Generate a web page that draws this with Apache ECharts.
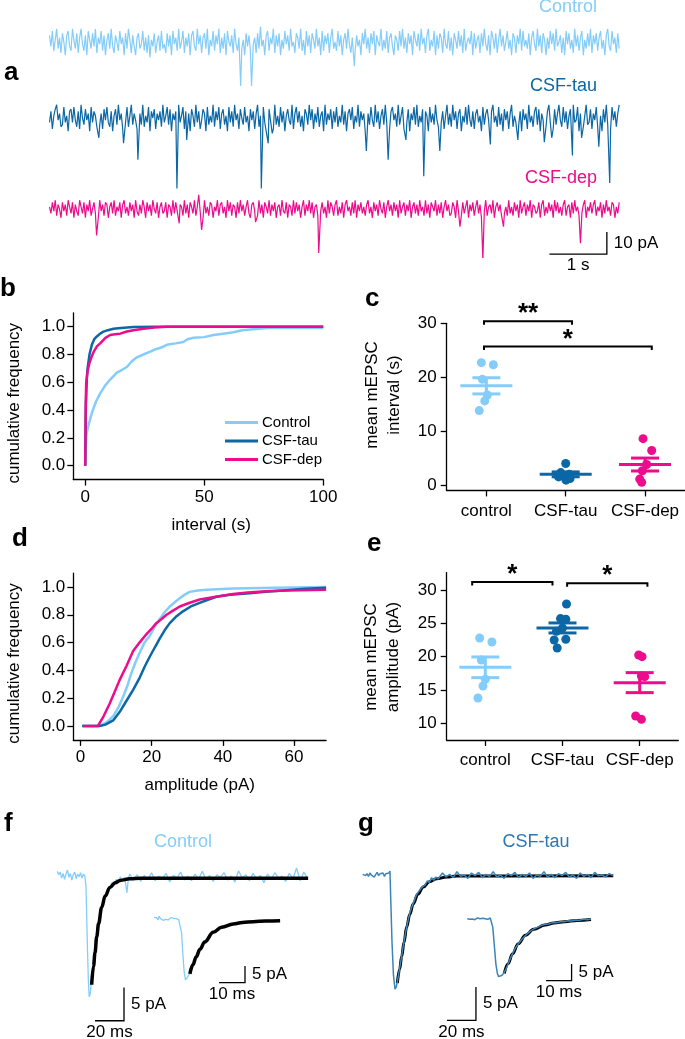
<!DOCTYPE html>
<html>
<head>
<meta charset="utf-8">
<script src="https://cdn.jsdelivr.net/npm/echarts@6/dist/echarts.min.js"></script>
<style>
  html, body { margin: 0; padding: 0; background: #fff; }
  #chart { width: 685px; height: 1039px; }
</style>
</head>
<body>
<div id="chart"></div>
<script>
const FONT = '"Liberation Sans", Arial, Helvetica, sans-serif';
const colors = { control: '#84CDFA', tau: '#0B67A6', dep: '#EC0C8C', tauTrace: '#3C85B8' };
const groupColors = [colors.control, colors.tau, colors.dep];
const groupLabels = ['control', 'CSF-tau', 'CSF-dep'];

// ---- a: raw traces, one sample every 25 ms (pA) ----
const traceDt = 0.025;
const controlNoise = [
  3,-2,5,-4,1,6,-3,2,-5,4,0,-6,3,5,-2,-4,6,1,-3,4,
  -5,2,6,-1,-4,3,-6,5,1,-3,4,-2,6,-5,2,-1,5,-4,3,-6,
  1,4,-3,6,-2,-5,3,0,-4,5,-1,2,-6,4,-3,6,1,-5,3,-2,
  -6,2,4,-3,-1,5,-4,2,-5,3,-7,1,-2,4,-5,0,3,-4,5,-3,
  -1,-5,4,-2,3,-6,5,-1,2,-4,6,-3,0,5,-5,2,-2,4,-6,3,
  5,-2,-4,6,-1,3,-5,2,4,-3,6,-6,1,-2,5,-4,3,-1,6,-5,
  2,-3,4,-6,5,0,-2,3,-5,6,-1,-4,2,5,-3,1,-6,4,-2,3,
  -4,6,-1,2,-5,4,-3,7,-2,1,-6,3,5,-4,2,-1,6,-5,3,-2,
  4,-6,1,-3,5,-1,3,-4,6,-2,0,-5,4,2,-3,6,-4,1,-6,5,
  -2,3,-5,4,1,-3,6,-2,2,-6,5,-4,3,-1,4,-5,2,6,-3,0,
  -4,5,-2,3,-6,1,4,-3,6,-1,-5,2,5,-4,3,-2,1,-6,4,-1,
  6,-3,2,-5,4,-1,5,-6,3,0,-2,6,-4,1,-3,5,-5,2,4,-2,
  -6,3,1,-4,5,-2,6,-3,2,-5,4,-1,3,-6,5,1,-2,4,-4,6,
  -1,2,-5,3,6,-4,1,-2,5,-6,3,-3,4,2,-5,6,-1,-3,5,-4,
  2,-6,4,1,-3,5,-2,3,-5,6,-4,0,2,-1,5,-6,4,-3,1,3,
  -5,4,-2,6,-1,-4,3,-6,5,2,-3,4,-5,1,6,-2,3,-4,0,5,
  -3,1,-6,4,2,-5,3,-1,6,-4,5,-2,1,-3,4,-6,2,5,-1,-4,
  6,-2,3,-5,4,1,-6,2,-3,5,-1,4,-4,6,-2,0,3,-5,2,-6,
  5,-1,4,-3,1,-5,6,-2,3,-4,2,5,-6,1,-3,4,-2,6,-5,3,
  -1,4,-4,2,5,-3,1,-6,3,6,-2,-4,5,-1,2,-5,4,-3
];
const tauNoise = [
  -2,3,-5,1,4,6,-1,2,-4,-3,5,-2,1,-6,3,4,-2,5,-1,-4,
  3,-5,6,0,-3,4,-1,2,-6,5,-2,3,1,-4,6,-3,2,-5,4,-1,
  5,-2,-4,3,-6,1,4,-3,6,-1,2,-5,3,-2,5,-4,1,6,-3,2,
  -1,-5,4,2,-3,6,-4,1,-2,5,-6,3,0,4,-5,2,-1,3,-4,6,
  -2,1,5,-3,4,-6,2,-1,3,-4,6,-2,1,5,-5,3,-3,2,-6,4,
  1,-4,6,-2,3,-5,-1,4,2,-6,5,-3,1,-2,6,-4,3,-1,5,-5,
  2,4,-3,1,-6,5,-2,3,-4,6,-1,2,-5,4,0,-3,5,-2,1,-6,
  4,-1,3,-5,2,6,-4,1,-3,5,-2,-6,3,4,-1,2,-5,6,-3,1,
  -4,5,-2,3,-6,1,4,-1,-3,6,-5,2,5,-2,3,-4,1,-6,4,2,
  -3,6,-1,4,-5,2,-2,5,-4,1,3,-6,6,-3,2,-1,4,-5,3,-2,
  5,-4,1,-2,6,-3,3,-6,2,4,-1,5,-5,1,-2,6,-4,3,-1,2,
  -6,4,2,-3,5,-1,-4,6,-2,3,-5,1,4,-3,6,-2,0,-5,3,5,
  -1,2,-4,6,-3,1,5,-5,3,-2,4,-6,2,-1,5,-3,6,-4,1,-2,
  4,-5,3,1,-6,5,-2,2,-3,6,-1,-4,4,-2,3,-5,1,6,-3,2,
  -4,6,-1,3,-5,2,4,-6,1,-2,5,-3,6,-1,-4,3,-5,2,4,-2,
  1,-6,5,-3,2,4,-1,-5,3,6,-2,1,-4,5,-3,2,-6,4,-1,3,
  -5,2,6,-4,1,-2,5,-3,3,-6,4,-1,2,-5,6,-2,1,-4,3,5,
  -3,4,-6,2,-1,5,-4,3,6,-2,1,-5,4,-3,2,6,-1,-4,5,-2,
  3,-5,1,4,-3,6,-2,-1,5,-6,2,3,-4,1,6,-3,-2,4,-5,2,
  -1,5,-4,3,1,-6,4,-2,6,-3,2,-5,5,-1,3,-4,2,6
];
const depNoise = [
  1,-2,3,-1,4,-3,2,0,-4,3,-1,2,-3,4,1,-2,3,-4,2,-1,
  -3,4,1,-2,3,-4,2,-1,4,-3,0,3,-2,1,-4,4,-1,2,-3,3,
  2,-4,1,3,-2,4,-3,1,-1,3,-4,2,4,-2,1,-3,3,-1,2,-4,
  4,-1,-3,2,-2,4,1,-4,3,-1,2,-3,4,0,-2,3,-4,1,3,-2,
  -1,3,-4,2,1,-3,4,-2,3,-1,-4,2,1,-3,4,-2,2,-4,3,1,
  -2,4,-3,1,3,-1,2,-4,4,-2,1,-3,3,2,-4,1,-1,4,-3,2,
  3,-2,1,-4,4,-1,3,-3,2,1,-4,3,-2,4,-1,2,-3,1,4,-2,
  -4,2,3,-1,1,-3,4,-2,2,-4,3,1,-2,4,-3,2,-1,3,-4,1,
  2,-3,4,-1,-2,3,-4,2,1,-3,4,-2,3,-1,2,-4,1,4,-3,2,
  -1,4,-2,3,-4,1,2,-3,4,-1,3,-2,1,-4,4,-2,3,1,-3,2,
  4,-3,1,-2,3,-4,2,4,-1,1,-3,3,-2,4,-4,2,-1,3,-2,1,
  -3,2,4,-2,1,-4,3,-1,2,-3,4,0,-2,3,-4,1,4,-1,2,-3,
  3,-1,2,-4,4,-2,1,3,-3,2,-1,4,-4,1,3,-2,2,-3,4,-1,
  1,-3,4,-2,2,-4,3,1,-1,4,-3,2,-2,3,-4,1,4,-1,2,-3,
  -2,3,1,-4,4,-1,2,-3,3,-2,1,4,-4,2,-1,3,-3,1,4,-2,
  2,-4,3,-1,4,-3,1,2,-2,4,-4,1,3,-1,2,-3,4,-2,1,-3,
  4,-2,1,-3,3,-1,2,-4,4,-2,1,3,-3,2,-1,4,-4,2,1,-2,
  -1,3,-4,2,4,-3,1,-2,3,-1,2,-4,4,-1,3,-2,1,-3,2,4,
  -3,1,2,-4,3,-2,4,-1,1,-3,3,-2,2,4,-4,1,-1,3,-2,2,
  4,-3,1,-1,3,-4,2,-2,4,-1,1,-3,3,2,-4,1,-2,3
];
// mEPSC events [time (s), amplitude (pA)]
const controlEvents = [[3.33, -20], [3.52, -20], [5.31, -11]];
const tauEvents = [
  [0.86, -9], [1.29, -11.5], [1.54, -19], [2.22, -32], [2.39, -10], [3.69, -32], [3.81, -11.5],
  [3.88, -7], [5.52, -15], [5.90, -19], [6.21, -10], [6.52, -26.5], [6.80, -15], [7.68, -12],
  [8.16, -10], [8.62, -11], [8.75, -9], [9.11, -17], [9.27, -9], [9.57, -13], [9.76, -29.5]
];
const depEvents = [
  [0.82, -12], [2.26, -6.5], [2.60, 6.5], [2.65, -9.5], [3.59, -6], [4.69, -20],
  [7.15, -8], [7.55, -23], [7.91, -8], [9.25, -15.5]
];

// ---- b: cumulative interval distributions [s, fraction] ----
const intervalCumControl = [
  [0,0],[0.2,0.12],[0.5,0.22],[1.2,0.28],[2.8,0.38],[4.5,0.46],[6.3,0.52],[8.5,0.58],[10.5,0.62],
  [13.3,0.67],[15.5,0.69],[17.5,0.71],[19.5,0.75],[21.7,0.78],[24.5,0.8],[27.3,0.82],[30,0.84],
  [32,0.85],[34.3,0.87],[38,0.88],[41.2,0.89],[43,0.91],[45.5,0.92],[50,0.925],[53.9,0.94],
  [58,0.95],[62.3,0.96],[66,0.975],[69.3,0.98],[76.3,0.99],[100,0.99]
];
const intervalCumTau = [
  [0,0],[0.3,0.45],[0.7,0.63],[1,0.7],[1.8,0.8],[2.8,0.87],[3.8,0.91],[4.9,0.93],[6.3,0.95],
  [7.7,0.965],[9.5,0.975],[11.9,0.985],[15,0.99],[20.3,0.997],[30,1],[100,1]
];
const intervalCumDep = [
  [0,0],[0.2,0.4],[0.4,0.59],[1,0.68],[1.8,0.74],[2.6,0.78],[3.6,0.82],[5,0.86],[6.3,0.88],
  [8.5,0.92],[10.5,0.94],[12.5,0.945],[14.7,0.95],[17.5,0.965],[20.3,0.975],[24.5,0.985],
  [29,0.995],[34.3,1],[100,1]
];

// ---- d: cumulative amplitude distributions [pA, fraction] ----
const ampCumControl = [
  [0.5,0],[5.4,0],[7.5,0.03],[9.2,0.07],[10.6,0.13],[12,0.21],[13.2,0.29],[14.3,0.38],[15.5,0.46],
  [16.7,0.53],[18,0.6],[19.5,0.65],[21,0.72],[22.3,0.77],[23.7,0.82],[25.1,0.86],[26.5,0.89],
  [27.9,0.92],[29.3,0.945],[30.7,0.965],[33,0.975],[35.4,0.98],[42.9,0.99],[55,0.995],[69,1]
];
const ampCumTau = [
  [0.5,0],[5.4,0],[7,0.01],[9.2,0.04],[11,0.1],[12.9,0.18],[14.8,0.26],[16.7,0.35],[18.1,0.43],
  [19.5,0.5],[21,0.57],[22.3,0.63],[23.7,0.69],[25.1,0.74],[27,0.79],[28.8,0.825],[31,0.86],
  [33.5,0.886],[36,0.91],[38.2,0.93],[42,0.945],[47.6,0.955],[52,0.965],[56.9,0.975],[62,0.985],[69,0.995]
];
const ampCumDep = [
  [0.7,0],[4.9,0],[6.5,0.07],[8.2,0.16],[9.6,0.245],[11,0.33],[12.9,0.43],[14.8,0.54],[16.6,0.6],
  [18.5,0.66],[20,0.7],[21.3,0.74],[22.8,0.77],[24.2,0.8],[26,0.83],[27.9,0.86],[30.5,0.885],
  [33.5,0.91],[38,0.93],[42.9,0.95],[47,0.96],[52.2,0.97],[58,0.975],[69,0.98]
];

// ---- c: mean mEPSC interval per cell (s) ----
const intervalControl = [22.7, 22.3, 19.6, 16.7, 15.6, 13.8];
const intervalControlJitter = [-0.063, 0.088, -0.05, 0.013, -0.02, -0.09];
const intervalTau = [4.0, 2.3, 2.0, 1.5, 1.2, 0.9];
const intervalTauJitter = [0.0, -0.063, 0.046, -0.09, 0.055, 0.004];
const intervalDep = [8.6, 6.4, 3.8, 2.65, 1.1, 0.5];
const intervalDepJitter = [-0.025, 0.084, 0.02, -0.034, -0.067, -0.042];
const intervalMean = [18.4, 1.98, 3.8];
const intervalSem = [1.5, 0.45, 1.2];
const intervalBrackets = [[-0.03, 1.08, 30.4, '**'], [-0.03, 2.085, 25.7, '*']];

// ---- e: mean mEPSC amplitude per cell (pA) ----
const amplitudeControl = [22.8, 22.2, 19.5, 16.6, 15.6, 13.8];
const amplitudeControlJitter = [-0.073, 0.086, -0.052, 0, -0.03, -0.095];
const amplitudeTau = [27.9, 25.7, 25.6, 24.3, 23.8, 22.6, 22.5, 21.3];
const amplitudeTauJitter = [0.052, -0.026, 0.043, 0.0, -0.078, 0.043, -0.108, -0.069];
const amplitudeDep = [20.25, 20.0, 17.1, 17.0, 11.1, 10.6];
const amplitudeDepJitter = [-0.013, 0.03, 0.022, 0.065, -0.052, 0.022];
const amplitudeMean = [18.4, 24.3, 16.1];
const amplitudeSem = [1.55, 0.75, 1.5];
const amplitudeBrackets = [[-0.17, 0.87, 31.2, '*'], [1.06, 2.1, 31.0, '*']];

// ---- f, g: averaged mEPSCs and exponential fits [ms, pA] ----
const fMainTrace = [
  [0,0.8],[1,0.3],[2,0.7],[3,-0.2],[4,0.5],[5,-0.4],[6,0.4],[7,1.0],[8,-0.1],[9,0.5],[10,-0.5],
  [11,0.3],[12,0.7],[13,-0.3],[14,0.4],[15,0.0],[16,0.6],[17,-0.2],[18,0.4],[19,0.1],
  [19.8,-1.5],[20.6,-9],[21.4,-15.5],[22,-18],[22.7,-17.6],[23.5,-15.6],[24.5,-13.6],[25.6,-11.0],
  [27,-8.6],[28.5,-6.6],[30,-4.9],[31.5,-3.8],[33,-3.2],[34.5,-2.1],[36,-1.9],[37.5,-0.9],[39,-1.2],
  [40.5,-0.4],[42,-0.9],[43.5,0.0],[45,-0.6],[46.5,-0.1],[48,-2.4],[49,-0.3],
  [50,0.4],[52.5,-0.5],[55,0.3],[57.5,-0.7],[60,0.2],[62.5,-0.4],[65,0.6],[67.5,-0.6],[70,0.1],
  [72.5,-0.3],[75,0.5],[77.5,-0.8],[80,0.2],[82.5,-0.2],[85,0.7],[87.5,-0.5],[90,0.1],[92.5,-0.6],
  [95,0.4],[97.5,-0.3],[100,0.8],[102.5,-0.4],[105,0.2],[107.5,-0.7],[110,0.3],[112.5,-0.1],
  [115,0.6],[117.5,-0.5],[120,0.1],[122.5,-0.8],[125,0.9],[127.5,-0.2],[130,0.3],[132.5,-0.6],
  [135,0.5],[137.5,-0.3],[140,0.2],[142.5,-0.9],[145,0.4],[147.5,-0.4],[150,0.6],[152.5,-0.2],
  [155,0.1],[157.5,-0.7],[160,0.5],[162.5,-0.3],[165,1.3],[167.5,-0.6],[170,0.7],[172.5,-0.2]
];
const fMainFit = [
  [23.7,-16.2],[25,-13.4],[26,-11.4],[27.2,-9.0],[28.5,-7.0],[30.6,-4.6],[33,-2.9],[36.3,-1.6],
  [40,-0.9],[43.2,-0.55],[50,-0.32],[57,-0.24],[173,-0.22]
];
const fInsetTrace = [
  [0,0.6],[0.5,0.1],[1,0.5],[1.5,-0.2],[2,0.9],[2.5,0.2],[3,0.4],[3.5,-0.3],[4,0.3],[4.5,0.0],
  [5,0.4],[5.5,-0.2],[6,0.2],[6.5,0.5],[7,-0.1],[7.5,0.3],[8,-0.3],[8.5,0.2],[9,0.4],[9.5,-0.1],[10,0.1],
  [10.6,-4],[11.1,-10.5],[11.6,-15.8],[12.1,-18.2],[12.6,-17.9],[13.2,-17.0],[14,-15.8],[15,-13.3],
  [16.5,-10.3],[18,-8.2],[20,-6],[22,-4.4],[24,-3.3],[26,-2.5],[28,-1.9],[30,-1.5],[33,-1.0],
  [36,-0.8],[39,-0.6],[42,-0.5],[45,-0.4],[48.5,-0.4]
];
const fInsetFit = [
  [13.8,-16.4],[15,-13.6],[16.2,-11.3],[17.7,-9.0],[19.5,-6.8],[22.8,-3.9],[26,-2.4],[30.5,-1.4],
  [34,-0.95],[38.2,-0.7],[43,-0.5],[48.5,-0.4]
];
const gMainTrace = [
  [0,0.1],[1,0.3],[2,-0.1],[3,0.2],[4,-0.2],[5,0.3],[6,0.0],[7,0.2],[8,-0.3],[9,0.1],[10,0.4],
  [11,-0.1],[12,0.2],[13,0.0],[14,0.3],[15,-0.2],[16,0.2],[17,0.0],[18,0.3],[18.8,0.6],
  [19.4,-4],[20.2,-10],[21.2,-15],[22.3,-17.1],[23.1,-16.8],[23.9,-16.0],[25,-14.6],[26.5,-12.6],
  [28,-10.6],[29.5,-8.7],[31,-7.1],[32.5,-5.7],[34,-4.7],[35.5,-3.9],[37,-3.0],[38.5,-2.5],
  [40,-2.1],[41.5,-1.7],[43,-1.5],[44.5,-0.9],[46,-1.1],[47.5,-0.4],[49,-0.8],[50.5,-0.3],[52,-0.6],
  [55,0.3],[57.5,-0.3],[60,0.1],[62.5,-0.4],[65,0.5],[67.5,-0.2],[70,0.0],[72.5,-0.5],[75,0.3],
  [77.5,-0.1],[80,0.4],[82.5,-0.4],[85,0.1],[87.5,-0.2],[90,0.5],[92.5,-0.3],[95,0.0],[97.5,-0.5],
  [100,0.2],[102.5,-0.1],[105,0.4],[107.5,-0.4],[110,0.1],[112.5,-0.2],[115,0.3],[117.5,-0.5],
  [120,0.0],[122.5,-0.2],[125,0.5],[127.5,-0.3],[130,0.1],[132.5,-0.4],[135,0.2],[137.5,-0.1],
  [140,0.4],[142.5,-0.3],[145,0.0],[147.5,-0.5],[150,0.3],[152.5,-0.2],[155,0.1],[157.5,-0.4],
  [160,0.4],[162.5,-0.1],[165,0.0],[167.5,-0.3],[170,0.2],[172.5,-0.1]
];
const gMainFit = [
  [23.9,-16.2],[25.5,-14.1],[26.9,-12.2],[28.5,-10.1],[30.3,-7.8],[32.5,-5.9],[34.9,-4.3],[38,-2.9],
  [41.8,-1.8],[46,-1.0],[51,-0.55],[58,-0.3],[64.8,-0.15],[172.8,-0.12]
];
const gInsetTrace = [
  [0,0.1],[0.5,0.2],[1,-0.1],[1.5,0.1],[2,0.0],[2.5,0.2],[3,-0.2],[3.5,0.1],[4,0.3],[4.5,-0.1],
  [5,0.1],[5.5,0.0],[6,0.2],[6.5,-0.1],[7,0.1],[7.5,0.2],[8,-0.1],[8.5,0.1],[9,0.3],[9.4,0.6],
  [10,-2.5],[10.6,-8],[11.2,-13.5],[11.8,-16.4],[12.3,-17.3],[12.9,-17.4],[13.6,-16.9],[14.5,-16.0],
  [15.5,-14.4],[17,-11.6],[18.5,-9.2],[20,-7.4],[21.5,-6.0],[23,-4.8],[24.5,-3.8],[26,-3.0],
  [27.5,-2.5],[29,-2.0],[30.5,-1.6],[32,-1.5],[33.5,-1.1],[35,-1.1],[36.5,-0.8],[38,-0.8],
  [39.5,-0.5],[41,-0.6],[42.5,-0.3],[44,-0.4],[45.5,-0.1],[47,-0.2],[48.5,0.0]
];
const gInsetFit = [
  [14.5,-16.3],[16,-13.4],[17.7,-10.5],[20,-7.4],[22.8,-4.9],[26,-3.1],[30.5,-1.8],[34,-1.2],
  [38.2,-0.8],[43,-0.45],[48.5,-0.15]
];

// scale bars: anchor (x, y) in data units, lengths, labels
const scaleBars = [
  { axis: 2, x: 8.71, y: -20.5, dx: 1, dy: 10, xText: '1 s', yText: '10 pA' },
  { axis: 7, x: 26, y: -21.6, dx: 20, dy: 5, xText: '20 ms', yText: '5 pA' },
  { axis: 8, x: 25, y: -19, dx: 10, dy: 5, xText: '10 ms', yText: '5 pA' },
  { axis: 9, x: 58.1, y: -21.8, dx: 20, dy: 5, xText: '20 ms', yText: '5 pA' },
  { axis: 10, x: 30.9, y: -18.5, dx: 10, dy: 5, xText: '10 ms', yText: '5 pA' }
];

function buildTrace(noise, events) {
  const pts = noise.map((v, i) => [i * traceDt, v]);
  events.forEach(([t, a]) => { pts[Math.round(t / traceDt)] = [t, a]; });
  return pts;
}

const font17 = '17px ' + FONT;

const grids = [
  { left: 49.5, top: 20, width: 574, height: 74.8 },
  { left: 49.5, top: 100.4, width: 574, height: 92.4 },
  { left: 49.5, top: 191.4, width: 574, height: 66 },
  { left: 73.3, top: 312.8, width: 249.9, height: 166.8 },
  { left: 446.7, top: 323.3, width: 238, height: 167.1 },
  { left: 73.3, top: 573.1, width: 252.8, height: 166.8 },
  { left: 446.7, top: 572.6, width: 231.6, height: 167.4 },
  { left: 57.3, top: 856.7, width: 253.75, height: 173.4 },
  { left: 154, top: 909.3, width: 130, height: 83.3 },
  { left: 362.7, top: 855, width: 253.75, height: 173.4 },
  { left: 467.3, top: 909, width: 127.5, height: 83.3 }
].map(g => Object.assign({ outerBoundsMode: 'none', containLabel: false }, g));

function hiddenAxis(i, min, max) {
  return { gridIndex: i, type: 'value', min: min, max: max, show: false };
}
function shownAxis(i, min, max, ticks, extra) {
  return Object.assign({
    gridIndex: i, type: 'value', min: min, max: max,
    axisLine: { show: true, onZero: false, lineStyle: { color: '#000', width: 1.3 } },
    axisTick: { show: true, length: 6, customValues: ticks, lineStyle: { color: '#000', width: 1.3 } },
    axisLabel: { customValues: ticks, color: '#000', fontSize: 17, fontFamily: FONT, margin: 9 },
    splitLine: { show: false },
    nameTextStyle: { color: '#000', fontSize: 17, fontFamily: FONT }
  }, extra || {});
}
const fracTicks = [0, 0.2, 0.4, 0.6, 0.8, 1];
const fracLabel = { customValues: fracTicks, color: '#000', fontSize: 17, fontFamily: FONT, margin: 8, formatter: v => v.toFixed(1) };
const groupLabel = { customValues: [0, 1, 2], color: '#000', fontSize: 17, fontFamily: FONT, margin: 12, formatter: v => groupLabels[Math.round(v)] };

const xAxes = [
  hiddenAxis(0, 0, 10), hiddenAxis(1, 0, 10), hiddenAxis(2, 0, 10),
  shownAxis(3, -5, 100, [0, 50, 100], { name: 'interval (s)', nameLocation: 'middle', nameGap: 37,
    nameTextStyle: { color: '#000', fontSize: 17, fontFamily: FONT, padding: [0, 0, 0, 26] } }),
  shownAxis(4, -0.5, 2.5, [0, 1, 2], { axisLabel: groupLabel }),
  shownAxis(5, -2, 69, [0, 20, 40, 60], { name: 'amplitude (pA)', nameLocation: 'middle', nameGap: 37 }),
  shownAxis(6, -0.5, 2.5, [0, 1, 2], { axisLabel: groupLabel }),
  hiddenAxis(7, 0, 175), hiddenAxis(8, 0, 50), hiddenAxis(9, 0, 175), hiddenAxis(10, 0, 50)
];
const yAxes = [
  hiddenAxis(0, -24, 10), hiddenAxis(1, -34, 8), hiddenAxis(2, -22, 8),
  shownAxis(3, -0.1, 1.1, fracTicks, { axisLabel: fracLabel, name: 'cumulative frequency', nameLocation: 'middle', nameGap: 50,
    nameTextStyle: { color: '#000', fontSize: 17, fontFamily: FONT, padding: [0, 14, 0, 0] } }),
  shownAxis(4, -1, 30, [0, 10, 20, 30], { axisLabel: { customValues: [0, 10, 20, 30], color: '#000', fontSize: 17, fontFamily: FONT, margin: 10 } }),
  shownAxis(5, -0.1, 1.1, fracTicks, { axisLabel: fracLabel, name: 'cumulative frequency', nameLocation: 'middle', nameGap: 50,
    nameTextStyle: { color: '#000', fontSize: 17, fontFamily: FONT, padding: [0, 14, 0, 0] } }),
  shownAxis(6, 7.5, 32.6, [10, 15, 20, 25, 30], { axisLabel: { customValues: [10, 15, 20, 25, 30], color: '#000', fontSize: 17, fontFamily: FONT, margin: 10 } }),
  hiddenAxis(7, -23, 3), hiddenAxis(8, -22, 3), hiddenAxis(9, -23, 3), hiddenAxis(10, -22, 3)
];

function lineSeries(name, axis, data, color, width, extra) {
  return Object.assign({
    name: name, type: 'line', xAxisIndex: axis, yAxisIndex: axis, data: data,
    showSymbol: false, symbol: 'none', color: color, silent: true,
    lineStyle: { color: color, width: width }
  }, extra || {});
}
function dotSeries(axis, group, values, jitter) {
  return {
    type: 'scatter', xAxisIndex: axis, yAxisIndex: axis, symbolSize: 9, silent: true,
    itemStyle: { color: groupColors[group], opacity: 1 },
    data: values.map((v, i) => [group + jitter[i], v])
  };
}
function meanSemSeries(axis, means, sems) {
  return {
    type: 'custom', xAxisIndex: axis, yAxisIndex: axis, silent: true, z: 5,
    data: means.map((m, i) => [i, m]),
    renderItem: (params, api) => {
      const i = params.dataIndex;
      const c = api.coord([i, means[i]]);
      const hi = api.coord([i, means[i] + sems[i]]);
      const lo = api.coord([i, means[i] - sems[i]]);
      const style = { stroke: groupColors[i], lineWidth: 3, fill: null };
      const seg = (x1, y1, x2, y2) => ({ type: 'line', shape: { x1, y1, x2, y2 }, style });
      return { type: 'group', children: [
        seg(c[0] - 26, c[1], c[0] + 26, c[1]),
        seg(hi[0] - 14, hi[1], hi[0] + 14, hi[1]),
        seg(lo[0] - 14, lo[1], lo[0] + 14, lo[1]),
        seg(c[0], lo[1], c[0], hi[1])
      ] };
    }
  };
}
function bracketSeries(axis, brackets) {
  return {
    type: 'custom', xAxisIndex: axis, yAxisIndex: axis, silent: true, clip: false,
    data: brackets.map(b => [b[0], b[2]]),
    renderItem: (params, api) => {
      const b = brackets[params.dataIndex];
      const p1 = api.coord([b[0], b[2]]);
      const p2 = api.coord([b[1], b[2]]);
      return { type: 'group', children: [
        { type: 'polyline', shape: { points: [[p1[0], p1[1] + 3.5], p1, p2, [p2[0], p2[1] + 3.5]] },
          style: { stroke: '#000', lineWidth: 2, fill: null } },
        { type: 'text', x: (p1[0] + p2[0]) / 2, y: p1[1] - 7,
          style: { text: b[3], fill: '#000', font: 'bold 26px ' + FONT, align: 'center', verticalAlign: 'middle' } }
      ] };
    }
  };
}
function scaleBarSeries(bar) {
  return {
    type: 'custom', xAxisIndex: bar.axis, yAxisIndex: bar.axis, silent: true, clip: false,
    data: [[bar.x, bar.y, bar.dx, bar.dy]],
    renderItem: (params, api) => {
      const x0 = api.value(0), y0 = api.value(1), dx = api.value(2), dy = api.value(3);
      const p0 = api.coord([x0, y0]);
      const p1 = api.coord([x0 + dx, y0]);
      const p2 = api.coord([x0 + dx, y0 + dy]);
      return { type: 'group', children: [
        { type: 'polyline', shape: { points: [p0, p1, p2] }, style: { stroke: '#000', lineWidth: 1.3, fill: null } },
        { type: 'text', x: (p0[0] + p1[0]) / 2, y: p0[1] + 3,
          style: { text: bar.xText, fill: '#000', font: font17, align: 'center', verticalAlign: 'top' } },
        { type: 'text', x: p2[0] + 7, y: (p1[1] + p2[1]) / 2,
          style: { text: bar.yText, fill: '#000', font: font17, align: 'left', verticalAlign: 'middle' } }
      ] };
    }
  };
}

const series = [
  lineSeries('controlTrace', 0, buildTrace(controlNoise, controlEvents), colors.control, 1.2),
  lineSeries('tauTrace', 1, buildTrace(tauNoise, tauEvents), colors.tau, 1.2),
  lineSeries('depTrace', 2, buildTrace(depNoise, depEvents), colors.dep, 1.2),

  lineSeries('Control', 3, intervalCumControl, colors.control, 2.5),
  lineSeries('CSF-tau', 3, intervalCumTau, colors.tau, 2.5),
  lineSeries('CSF-dep', 3, intervalCumDep, colors.dep, 2.5),

  dotSeries(4, 0, intervalControl, intervalControlJitter),
  dotSeries(4, 1, intervalTau, intervalTauJitter),
  dotSeries(4, 2, intervalDep, intervalDepJitter),
  meanSemSeries(4, intervalMean, intervalSem),
  bracketSeries(4, intervalBrackets),

  lineSeries('ampControl', 5, ampCumControl, colors.control, 2.5),
  lineSeries('ampTau', 5, ampCumTau, colors.tau, 2.5),
  lineSeries('ampDep', 5, ampCumDep, colors.dep, 2.5),

  dotSeries(6, 0, amplitudeControl, amplitudeControlJitter),
  dotSeries(6, 1, amplitudeTau, amplitudeTauJitter),
  dotSeries(6, 2, amplitudeDep, amplitudeDepJitter),
  meanSemSeries(6, amplitudeMean, amplitudeSem),
  bracketSeries(6, amplitudeBrackets),

  lineSeries('fTrace', 7, fMainTrace, colors.control, 1.3),
  lineSeries('fFit', 7, fMainFit, '#000', 3.5, { smooth: 0.4, smoothMonotone: 'x', z: 3 }),
  lineSeries('fInsetTrace', 8, fInsetTrace, colors.control, 1.3),
  lineSeries('fInsetFit', 8, fInsetFit, '#000', 3.5, { smooth: 0.4, smoothMonotone: 'x', z: 3 }),
  lineSeries('gFit', 9, gMainFit, '#000', 3, { smooth: 0.4, smoothMonotone: 'x', z: 2 }),
  lineSeries('gTrace', 9, gMainTrace, colors.tauTrace, 1.5, { z: 3 }),
  lineSeries('gInsetFit', 10, gInsetFit, '#000', 3, { smooth: 0.4, smoothMonotone: 'x', z: 2 }),
  lineSeries('gInsetTrace', 10, gInsetTrace, colors.tauTrace, 1.5, { z: 3 })
].concat(scaleBars.map(scaleBarSeries));

function label(text, x, y, opts) {
  return { type: 'text', x: x, y: y, silent: true,
    style: Object.assign({ text: text, fill: '#000', font: font17, align: 'left', verticalAlign: 'middle' }, opts || {}) };
}
const letter = (t, x, y) => label(t, x, y, { font: 'bold 26px ' + FONT });
const graphics = [
  letter('a', 4, 73), letter('b', 0, 289), letter('c', 365, 299), letter('d', 12, 539),
  letter('e', 367, 544), letter('f', 4, 824), letter('g', 358, 824),
  label('Control', 597, 7, { fill: colors.control, font: '18px ' + FONT, align: 'right' }),
  label('CSF-tau', 597, 86, { fill: colors.tau, font: '18px ' + FONT, align: 'right' }),
  label('CSF-dep', 597, 178, { fill: colors.dep, font: '18px ' + FONT, align: 'right' }),
  label('Control', 183, 842, { fill: colors.control, font: '18px ' + FONT, align: 'center' }),
  label('CSF-tau', 536, 842, { fill: '#2B78B2', font: '18px ' + FONT, align: 'center' }),
  label('mean mEPSC\ninterval (s)', 383.5, 395, { align: 'center', lineHeight: 22 }),
  label('mean mEPSC\namplitude (pA)', 382, 657, { align: 'center', lineHeight: 22 })
];
graphics[graphics.length - 1].rotation = Math.PI / 2;
graphics[graphics.length - 2].rotation = Math.PI / 2;

const chart = echarts.init(document.getElementById('chart'), null, { renderer: 'canvas' });
chart.setOption({
  animation: false,
  backgroundColor: '#fff',
  textStyle: { fontFamily: FONT },
  grid: grids,
  xAxis: xAxes,
  yAxis: yAxes,
  legend: {
    data: ['Control', 'CSF-tau', 'CSF-dep'],
    orient: 'vertical', left: 225, top: 415, padding: 0,
    icon: 'rect', itemWidth: 33, itemHeight: 3, itemGap: 3.5, selectedMode: false,
    textStyle: { color: '#000', fontSize: 15, fontFamily: FONT, padding: [0, 0, 0, -1] }
  },
  graphic: graphics,
  series: series
});
</script>
</body>
</html>
